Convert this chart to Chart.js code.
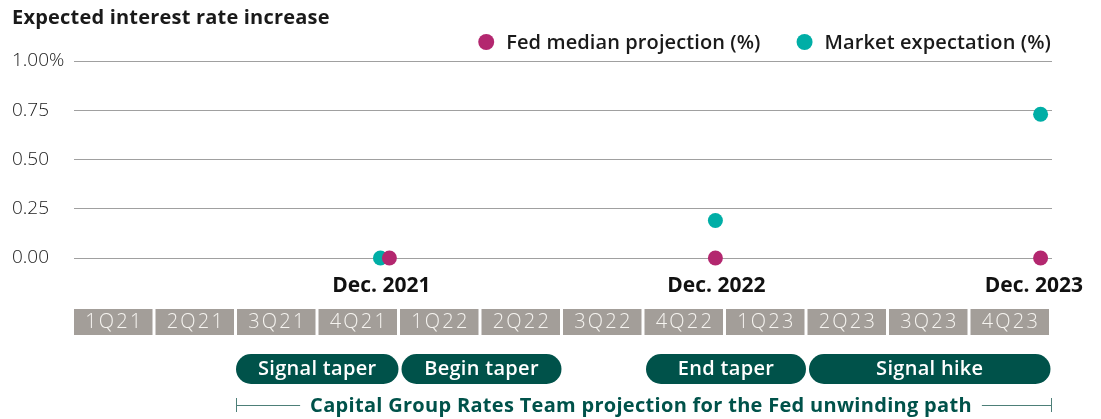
<!DOCTYPE html>
<html><head><meta charset="utf-8">
<script src="https://cdn.jsdelivr.net/npm/chart.js@4.4.0/dist/chart.umd.min.js"></script>
<style>html,body{margin:0;padding:0;background:#fff;}</style>
</head><body>
<canvas id="c" width="1101" height="419"></canvas>
<script>
// ---- data ----
const chartTitle = 'Expected interest rate increase';
const quarters = ['1Q21','2Q21','3Q21','4Q21','1Q22','2Q22','3Q22','4Q22','1Q23','2Q23','3Q23','4Q23'];
const pointLabels = ['Dec. 2021','Dec. 2022','Dec. 2023'];
// x positions in quarter units (0 = start of 1Q21)
const fedPos = [3.87, 7.87, 11.86];
const marketPos = [3.76, 7.87, 11.86];
const fedValues = [0, 0, 0];
const marketValues = [0, 0.19, 0.73];
const yTicks = [0, 0.25, 0.5, 0.75, 1];
const yTickLabels = ['0.00', '0.25', '0.50', '0.75', '1.00%'];
const phases = ['Signal taper', 'Begin taper', 'End taper', 'Signal hike'];
const phaseStart = [2, 4, 7, 9];
const phaseEnd = [4, 6, 9, 12];
const bracketText = 'Capital Group Rates Team projection for the Fed unwinding path';
const bracketStart = 2, bracketEnd = 12;

const FED = '#b3276f', MKT = '#00aea6', GREEN = '#00524a', BOX = '#a39e99';
const FONT = '"Open Sans", "Noto Sans", sans-serif';

function setFont(ctx, f, ls) { ctx.font = f; ctx.letterSpacing = (ls || 0) + 'px'; }

const overlay = {
  id: 'overlay',
  afterDraw(chart) {
    const ctx = chart.ctx, xs = chart.scales.x, ys = chart.scales.y;
    ctx.save();
    // title
    ctx.fillStyle = '#1a1a1a';
    setFont(ctx, 'bold 20px ' + FONT, 0.2);
    ctx.textAlign = 'left'; ctx.textBaseline = 'middle';
    ctx.fillText(chartTitle, 12, 18);
    // legend (right aligned)
    setFont(ctx, '600 20px ' + FONT, 0.1);
    const items = chart.data.datasets.map(d => ({ label: d.label, color: d.backgroundColor }));
    let right = 1051;
    for (let i = items.length - 1; i >= 0; i--) {
      const w = ctx.measureText(items[i].label).width;
      const tx = right - w;
      ctx.fillStyle = '#1a1a1a';
      ctx.fillText(items[i].label, tx, 43);
      ctx.beginPath();
      ctx.fillStyle = items[i].color;
      ctx.arc(tx - 20, 42, 8, 0, Math.PI * 2);
      ctx.fill();
      right = tx - 20 - 8 - 36;
    }
    // point labels
    setFont(ctx, 'bold 21px ' + FONT, 0);
    ctx.fillStyle = '#111';
    ctx.textAlign = 'center';
    const y0 = ys.getPixelForValue(0);
    pointLabels.forEach((t, i) => {
      let x = xs.getPixelForValue(marketPos[i]) + 1;
      const w = ctx.measureText(t).width;
      x = Math.min(x, 1083 - w / 2);
      ctx.fillText(t, x, y0 + 28);
    });
    // quarter boxes
    setFont(ctx, '300 20px ' + FONT, 2.2);
    quarters.forEach((q, i) => {
      const a = xs.getPixelForValue(i), b = xs.getPixelForValue(i + 1) - 3;
      ctx.fillStyle = BOX;
      ctx.fillRect(a, 309, b - a, 26);
      ctx.fillStyle = '#f6f4f0';
      ctx.fillText(q, (a + b) / 2 + 1.1, 322.5);
    });
    // phase pills
    setFont(ctx, '600 20px ' + FONT, 0.3);
    phases.forEach((p, i) => {
      const a = xs.getPixelForValue(phaseStart[i]) + (i === 0 ? -1 : 1.5);
      const b = xs.getPixelForValue(phaseEnd[i]) - 1.5;
      const top = 354, h = 30, r = 15;
      ctx.fillStyle = GREEN;
      ctx.beginPath();
      ctx.roundRect(a, top, b - a, h, r);
      ctx.fill();
      ctx.fillStyle = '#fff';
      ctx.fillText(p, (a + b) / 2, top + h / 2 + 0.5);
    });
    // bracket
    const bA = xs.getPixelForValue(bracketStart) - 1, bB = xs.getPixelForValue(bracketEnd);
    const by = 405;
    setFont(ctx, 'bold 20px ' + FONT, 0.3);
    const tw = ctx.measureText(bracketText).width;
    const cx = (bA + bB) / 2 - 3;
    ctx.fillStyle = GREEN;
    ctx.fillText(bracketText, cx, by + 1);
    ctx.strokeStyle = '#4d7f78';
    ctx.lineWidth = 1;
    ctx.beginPath();
    ctx.moveTo(bA + 0.5, by - 7); ctx.lineTo(bA + 0.5, by + 7);
    ctx.moveTo(bA, by + 0.5); ctx.lineTo(cx - tw / 2 - 10, by + 0.5);
    ctx.moveTo(cx + tw / 2 + 10, by + 0.5); ctx.lineTo(bB, by + 0.5);
    ctx.moveTo(bB - 0.5, by - 7); ctx.lineTo(bB - 0.5, by + 7);
    ctx.stroke();
    ctx.restore();
  }
};

new Chart(document.getElementById('c'), {
  type: 'scatter',
  data: {
    datasets: [
      { label: 'Fed median projection (%)', data: fedPos.map((x, i) => ({ x, y: fedValues[i] })),
        backgroundColor: FED, borderWidth: 0, pointRadius: 7.5, pointHoverRadius: 7.5, clip: false, order: 1 },
      { label: 'Market expectation (%)', data: marketPos.map((x, i) => ({ x, y: marketValues[i] })),
        backgroundColor: MKT, borderWidth: 0, pointRadius: 7.5, pointHoverRadius: 7.5, clip: false, order: 2 }
    ]
  },
  options: {
    responsive: false,
    animation: false,
    events: [],
    layout: { padding: { left: 12, right: 49, top: 61, bottom: 161 } },
    plugins: { legend: { display: false }, title: { display: false }, tooltip: { enabled: false } },
    scales: {
      x: { type: 'linear', min: 0, max: 12, display: false },
      y: {
        min: 0, max: 1,
        afterBuildTicks: s => { s.ticks = yTicks.map(v => ({ value: v })); },
        afterFit: s => { s.width = 62; },
        ticks: { callback: (v, i) => yTickLabels[i], font: { family: FONT, size: 19, weight: '300' }, color: '#1a1a1a', crossAlign: 'far', padding: 0 },
        grid: { color: '#a0a0a0', lineWidth: 1, drawTicks: false },
        border: { display: false }
      }
    }
  },
  plugins: [overlay]
});
</script>
</body></html>
